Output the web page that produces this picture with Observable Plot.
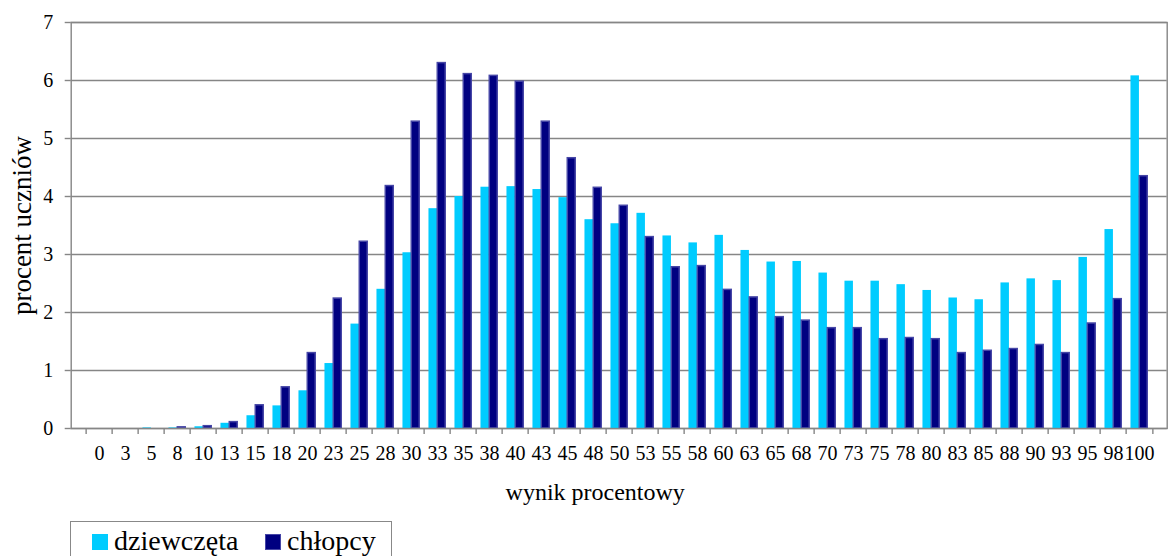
<!DOCTYPE html>
<html>
<head>
<meta charset="utf-8">
<script src="https://cdn.jsdelivr.net/npm/d3@7"></script>
<script src="https://cdn.jsdelivr.net/npm/@observablehq/plot@0.6"></script>
<style>
  html, body { margin: 0; padding: 0; background: #fff; }
  #wrap { position: relative; width: 1173px; height: 556px; overflow: hidden; font-family: "Liberation Serif", "Times New Roman", serif; }
  #legend { position: absolute; left: 70px; top: 521px; width: 322px; height: 44px; border: 1.5px solid #888; box-sizing: border-box; font-size: 28px; line-height: 30px; color: #000; white-space: nowrap; }
  #legend .item { position: absolute; top: 4px; }
  #legend .sw { display: inline-block; width: 16px; height: 16px; margin-right: 6px; vertical-align: 0px; }
  #chart svg, #chart svg text { font-family: "Liberation Serif", "Times New Roman", serif !important; }
</style>
</head>
<body>
<div id="wrap">
  <div id="chart"></div>
  <div id="legend"></div>
</div>
<script>
const categories = ["0","3","5","8","10","13","15","18","20","23","25","28","30","33","35","38","40","43","45","48","50","53","55","58","60","63","65","68","70","73","75","78","80","83","85","88","90","93","95","98","100"];
const girls = [0, 0, 0.01, 0.01, 0.03, 0.09, 0.22, 0.39, 0.65, 1.12, 1.80, 2.40, 3.03, 3.79, 4.00, 4.16, 4.17, 4.12, 3.98, 3.60, 3.53, 3.71, 3.32, 3.20, 3.33, 3.07, 2.87, 2.88, 2.68, 2.54, 2.54, 2.48, 2.38, 2.25, 2.22, 2.51, 2.58, 2.55, 2.95, 3.43, 6.08];
const boys = [0, 0, 0, 0.02, 0.04, 0.11, 0.40, 0.71, 1.30, 2.24, 3.22, 4.18, 5.29, 6.30, 6.11, 6.08, 5.98, 5.29, 4.66, 4.15, 3.84, 3.30, 2.78, 2.80, 2.39, 2.26, 1.92, 1.86, 1.73, 1.73, 1.54, 1.56, 1.54, 1.30, 1.34, 1.37, 1.44, 1.30, 1.81, 2.23, 4.35];
const yTicks = [0, 1, 2, 3, 4, 5, 6, 7];
const seriesNames = ["dziewczęta", "chłopcy"];
const seriesColors = ["#00CCFF", "#000080"];

const data = categories.map((c, i) => ({cat: c, girls: girls[i], boys: boys[i]}));

const W = 1173, H = 515;
const mL = 70.7, mR = 6.3, mT = 22, mB = 87;
const bw = (W - mL - mR) / categories.length;
const half = bw / 2;
const grid = "#868686";

const chart = Plot.plot({
  width: W, height: H,
  marginLeft: mL, marginRight: mR, marginTop: mT, marginBottom: mB,
  style: {fontSize: "20px", color: "#000", background: "#fff", overflow: "visible"},
  x: {domain: categories, padding: 0, axis: null},
  y: {domain: [0, 7], axis: null},
  marks: [
    Plot.ruleY(yTicks, {stroke: grid, strokeWidth: 1.4}),
    Plot.barY(data, {x: "cat", y: "girls", fill: seriesColors[0], insetLeft: half - 8.9, insetRight: half - 0.3}),
    Plot.barY(data.filter(d => d.boys > 0), {x: "cat", y: "boys", fill: seriesColors[1], stroke: "#4646a6", strokeWidth: 1.5, insetLeft: half - 0.1, insetRight: half - 8.6}),
    Plot.frame({stroke: grid, strokeWidth: 1.4}),
    Plot.axisY(yTicks, {tickSize: 6, tickPadding: 12, stroke: grid, strokeWidth: 1.4, fontSize: 20, tickFormat: d => String(d), label: null}),
    Plot.axisX({tickSize: 6, stroke: grid, strokeWidth: 1.4, tickFormat: () => "", dx: -half, label: null}),
    Plot.axisX([categories[categories.length - 1]], {tickSize: 6, stroke: grid, strokeWidth: 1.4, tickFormat: () => "", dx: half, label: null}),
    Plot.axisX({tickSize: 0, tickPadding: 17, fontSize: 20, label: null}),
    Plot.text(["wynik procentowy"], {frameAnchor: "bottom", dy: 64, dx: -24, fontSize: 24, lineAnchor: "middle"}),
    Plot.text(["procent uczniów"], {frameAnchor: "left", rotate: -90, dx: -49, fontSize: 27, lineAnchor: "middle", textAnchor: "middle"})
  ]
});
document.getElementById("chart").appendChild(chart);

const legend = document.getElementById("legend");
const lx = [21, 194];
seriesNames.forEach((name, i) => {
  const it = document.createElement("div");
  it.className = "item";
  it.style.left = lx[i] + "px";
  const sw = document.createElement("span");
  sw.className = "sw";
  sw.style.background = seriesColors[i];
  if (i === 1) { sw.style.border = "1.5px solid #4646a6"; sw.style.boxSizing = "border-box"; }
  it.appendChild(sw);
  it.appendChild(document.createTextNode(name));
  legend.appendChild(it);
});
</script>
</body>
</html>
